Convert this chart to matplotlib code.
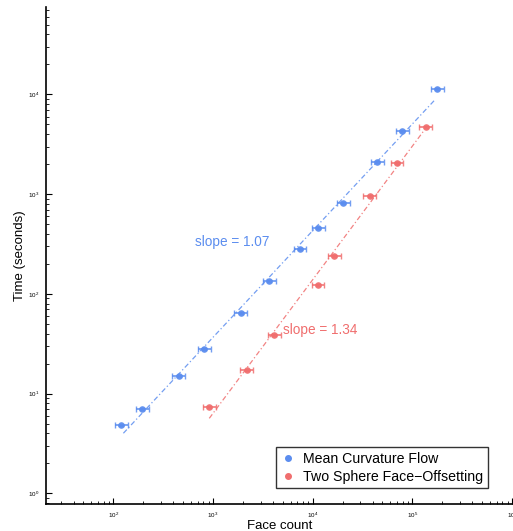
import numpy as np
import matplotlib
matplotlib.use('Agg')
import matplotlib.pyplot as plt
from matplotlib.lines import Line2D

plt.rcParams['font.family'] = ['Liberation Sans', 'DejaVu Sans']
plt.rcParams['mathtext.fontset'] = 'custom'
plt.rcParams['mathtext.rm'] = 'Liberation Sans'

# Mean Curvature Flow
mcf_faces = [120, 195, 453, 818, 1900, 3650, 7460, 11400, 20300, 44500, 79400, 178000]
mcf_time = [4.8, 7.0, 15.1, 27.8, 64.8, 135, 282, 455, 822, 2100, 4300, 11430]
mcf_slope, mcf_icpt = 1.07, -1.645
mcf_fit_range = [126, 166000]

# Two Sphere Face-Offsetting
tsf_faces = [912, 2190, 4100, 11300, 16400, 37300, 70100, 136000]
tsf_time = [7.3, 17.1, 38.4, 123, 240, 953, 2040, 4720]
tsf_slope, tsf_icpt = 1.34, -3.217
tsf_fit_range = [916, 129000]

blue = '#5b8def'
red = '#f06e6e'

fig = plt.figure(figsize=(5.13, 5.31), dpi=100)
ax = fig.add_axes([0.0897, 0.0508, 0.9103, 0.9362])

def draw(faces, times, slope, icpt, rng, col, label):
    faces = np.array(faces, dtype=float)
    times = np.array(times, dtype=float)
    xerr = [faces * 0.14, faces * 0.16]
    yerr = [times * 0.02, times * 0.02]
    ax.errorbar(faces, times, xerr=xerr, yerr=yerr, fmt='o', ms=3.8,
                color=col, ecolor=col, elinewidth=1.3, capsize=2.2,
                capthick=1.0, alpha=0.85, label=label)
    xs = np.array(rng, dtype=float)
    ys = 10 ** (slope * np.log10(xs) + icpt)
    ax.plot(xs, ys, color=col, lw=0.9, ls=(0, (4, 2, 1, 2)), alpha=0.85)

draw(mcf_faces, mcf_time, mcf_slope, mcf_icpt, mcf_fit_range, blue, 'Mean Curvature Flow')
draw(tsf_faces, tsf_time, tsf_slope, tsf_icpt, tsf_fit_range, red, 'Two Sphere Face\u2212Offsetting')

ax.set_xscale('log')
ax.set_yscale('log')
ax.set_xlim(21.1, 1.02e6)
ax.set_ylim(0.781, 75500)

ax.text(659, 332, 'slope = %.2f' % mcf_slope, color=blue, fontsize=9.8, va='center')
ax.text(5040, 43.6, 'slope = %.2f' % tsf_slope, color=red, fontsize=9.8, va='center')

ax.set_xlabel('Face count', fontsize=9.5, labelpad=0)
ax.set_ylabel('Time (seconds)', fontsize=9.5, labelpad=1)

ax.spines['top'].set_visible(False)
ax.spines['right'].set_visible(False)
ax.spines['left'].set_linewidth(1.2)
ax.spines['bottom'].set_linewidth(1.2)
ax.tick_params(which='major', direction='in', length=4, width=0.8, labelsize=4.5, pad=5)
ax.tick_params(which='minor', direction='in', length=2.5, width=0.6)

handles = [Line2D([], [], marker='o', ls='', color=blue, ms=4.0),
           Line2D([], [], marker='o', ls='', color=red, ms=4.0)]
leg = ax.legend(handles, ['Mean Curvature Flow', 'Two Sphere Face\u2212Offsetting'],
                loc='lower right', bbox_to_anchor=(0.946, 0.032), fontsize=10.2,
                frameon=True, fancybox=False, handlelength=1.0, handletextpad=0.6,
                borderpad=0.3, labelspacing=0.3, borderaxespad=0)
leg.get_frame().set_edgecolor('black')
leg.get_frame().set_linewidth(1.0)

fig.savefig('out.png', dpi=100)
